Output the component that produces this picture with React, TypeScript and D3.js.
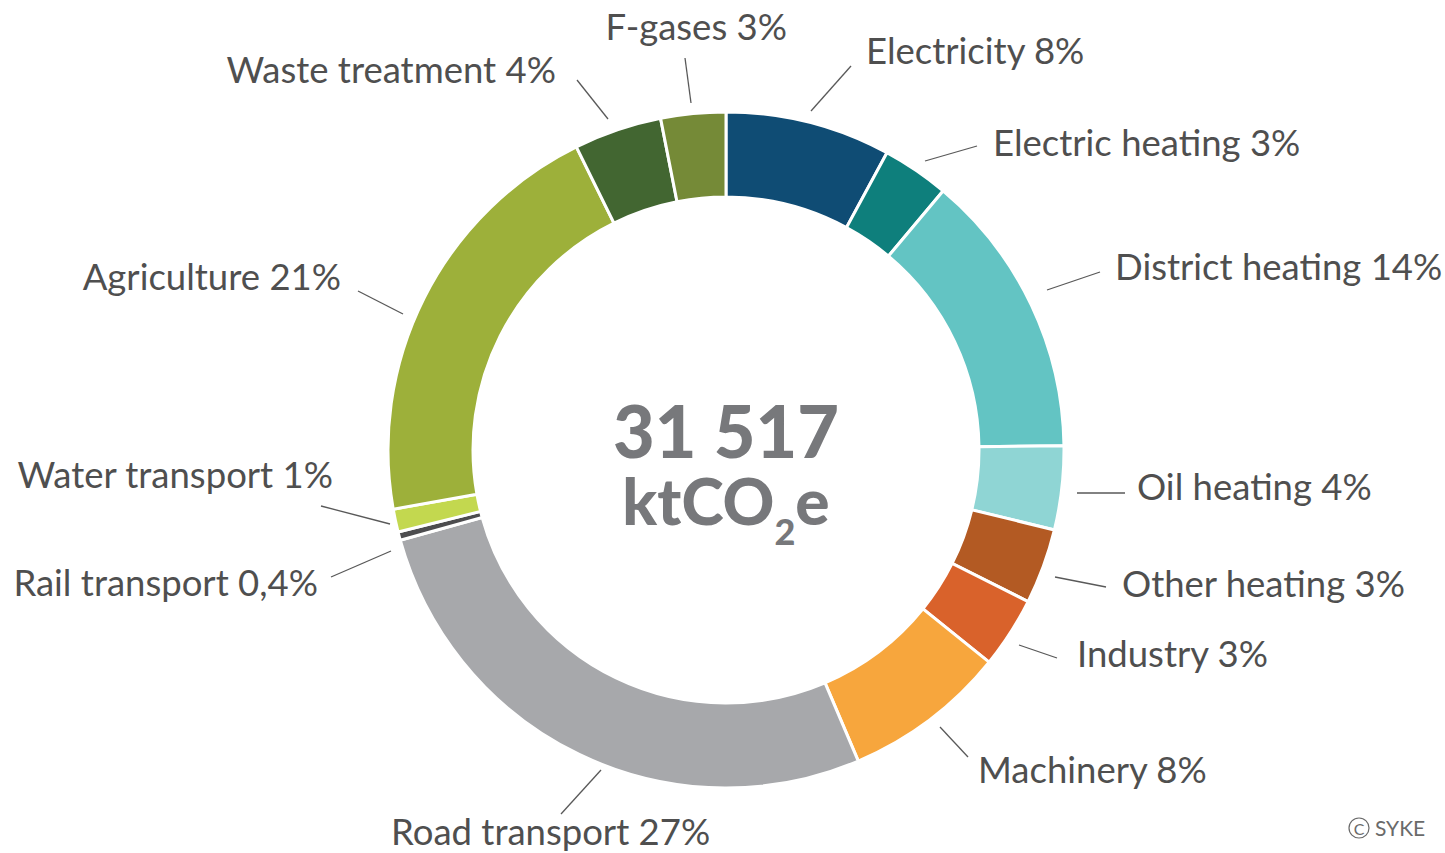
import React from "react";
import * as d3 from "d3";

const categories = [
  "Electricity", "Electric heating", "District heating", "Oil heating", "Other heating",
  "Industry", "Machinery", "Road transport", "Rail transport", "Water transport",
  "Agriculture", "Waste treatment", "F-gases",
];
const shares = [7.9, 3.2, 13.7, 4.0, 3.6, 3.4, 7.8, 27.1, 0.4, 1.1, 20.5, 4.2, 3.1];
const shareLabels = ["8%", "3%", "14%", "4%", "3%", "3%", "8%", "27%", "0,4%", "1%", "21%", "4%", "3%"];
const colors = [
  "#0f4c74", "#0e7f7c", "#63c4c3", "#8fd5d4", "#b35a23", "#d9622b", "#f7a63d",
  "#a7a8ab", "#4d4d4f", "#c3d84f", "#9db03a", "#426631", "#758a37",
];
const totalLabel = "31 517";

// label layout: text anchor point and leader line endpoints
const labelLayout = [
  { x: 866, y: 64, anchor: "start", line: [811, 111, 851, 66] },
  { x: 993, y: 156, anchor: "start", line: [925, 161, 977, 146] },
  { x: 1115, y: 280, anchor: "start", line: [1047, 290, 1100, 272] },
  { x: 1137, y: 500, anchor: "start", line: [1077, 493, 1125, 493] },
  { x: 1122, y: 597, anchor: "start", line: [1055, 577, 1106, 587] },
  { x: 1077, y: 667, anchor: "start", line: [1019, 645, 1057, 658] },
  { x: 978, y: 783, anchor: "start", line: [940, 727, 968, 757] },
  { x: 391, y: 845, anchor: "start", line: [601, 770, 561, 814] },
  { x: 318, y: 596, anchor: "end", line: [391, 551, 331, 577] },
  { x: 333, y: 488, anchor: "end", line: [390, 524, 321, 506] },
  { x: 341, y: 290, anchor: "end", line: [403, 314, 358, 291] },
  { x: 556, y: 83, anchor: "end", line: [608, 119, 577, 80] },
  { x: 787, y: 40, anchor: "end", line: [691, 103, 685, 58] },
];

const W = 1445;
const H = 853;
const cx = 726;
const cy = 450;
const outerR = 338;
const innerR = 253;

export default function App() {
  const pie = d3.pie<number>().sort(null).value((d) => d)(shares);
  const arc = d3.arc<d3.PieArcDatum<number>>().innerRadius(innerR).outerRadius(outerR);
  const font = "Lato, 'Open Sans', sans-serif";
  return (
    <svg
      width={W}
      height={H}
      style={{ position: "absolute", left: 0, top: 0, display: "block", background: "#fff" }}
    >
      <g transform={`translate(${cx},${cy})`}>
        {pie.map((p, i) => (
          <path key={categories[i]} d={arc(p) || ""} fill={colors[i]} stroke="#fff" strokeWidth={3} strokeLinejoin="miter" />
        ))}
      </g>
      {labelLayout.map((l, i) => (
        <g key={categories[i]}>
          <line x1={l.line[0]} y1={l.line[1]} x2={l.line[2]} y2={l.line[3]} stroke="#595959" strokeWidth={1.3} />
          <text
            x={l.x}
            y={l.y}
            textAnchor={l.anchor as any}
            fontFamily={font}
            fontSize={36.5}
            fill="#4f4f4f"
          >
            {categories[i]} {shareLabels[i]}
          </text>
        </g>
      ))}
      <text x={cx} y={458} textAnchor="middle" fontFamily={font} fontWeight={900} fontSize={72} fill="#77787b">
        {totalLabel}
      </text>
      <text x={cx} y={525} textAnchor="middle" fontFamily={font} fontWeight={900} fontSize={64} fill="#77787b">
        ktCO<tspan fontSize={36} dy={20}>2</tspan><tspan dy={-20}>e</tspan>
      </text>
      <g>
        <circle cx={1359} cy={828} r={10} fill="none" stroke="#6a6a6a" strokeWidth={1.2} />
        <text x={1359} y={834.5} textAnchor="middle" fontFamily={font} fontSize={16} fill="#6a6a6a">C</text>
        <text x={1375} y={836} fontFamily={font} fontSize={21} fill="#6a6a6a">SYKE</text>
      </g>
    </svg>
  );
}
